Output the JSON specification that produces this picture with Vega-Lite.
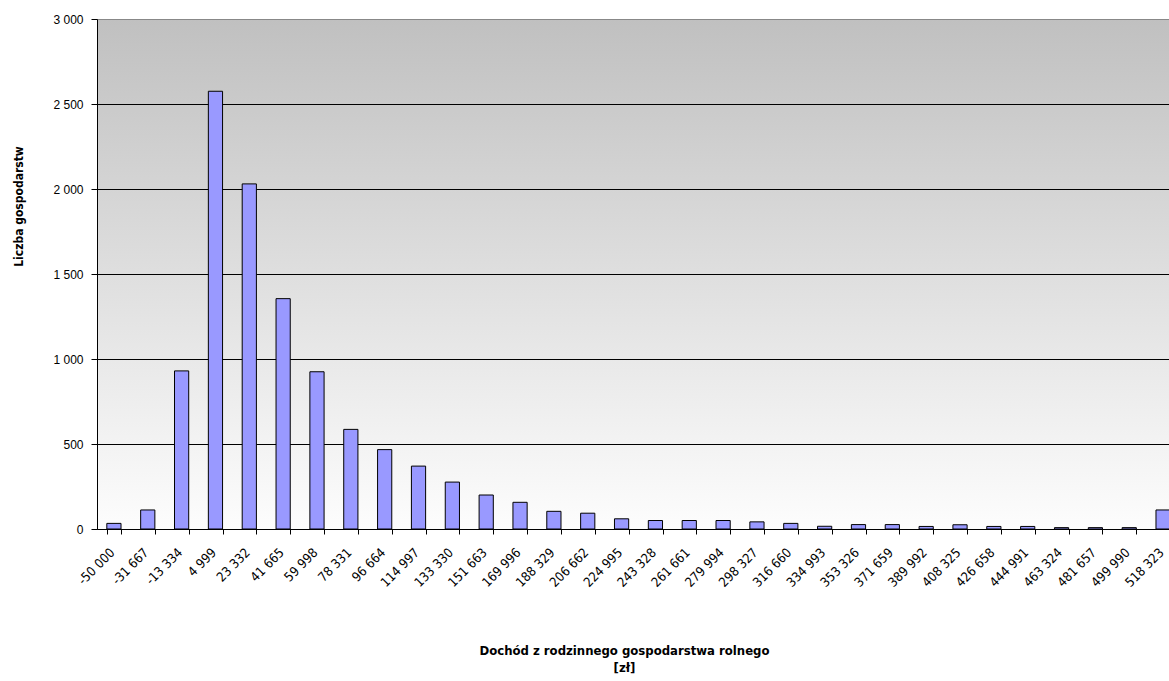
{
  "$schema": "https://vega.github.io/schema/vega-lite/v6.json",
  "width": 1072,
  "height": 510,
  "autosize": {"type": "none"},
  "padding": {"left": 97, "top": 19, "right": 0, "bottom": 152},
  "background": "white",
  "config": {
    "view": {
      "fill": {"gradient": "linear", "x1": 0, "y1": 0, "x2": 0, "y2": 1,
        "stops": [{"offset": 0, "color": "#c0c0c0"}, {"offset": 1, "color": "#fdfdfd"}]},
      "stroke": null
    },
    "font": "DejaVu Sans Condensed, sans-serif"
  },
  "data": {
    "values": [
      {"przedzial": "-50 000", "liczba": 33},
      {"przedzial": "-31 667", "liczba": 112},
      {"przedzial": "-13 334", "liczba": 930},
      {"przedzial": "4 999", "liczba": 2575},
      {"przedzial": "23 332", "liczba": 2030},
      {"przedzial": "41 665", "liczba": 1355},
      {"przedzial": "59 998", "liczba": 925},
      {"przedzial": "78 331", "liczba": 586},
      {"przedzial": "96 664", "liczba": 467},
      {"przedzial": "114 997", "liczba": 370},
      {"przedzial": "133 330", "liczba": 276},
      {"przedzial": "151 663", "liczba": 200},
      {"przedzial": "169 996", "liczba": 157},
      {"przedzial": "188 329", "liczba": 104},
      {"przedzial": "206 662", "liczba": 93},
      {"przedzial": "224 995", "liczba": 60},
      {"przedzial": "243 328", "liczba": 50},
      {"przedzial": "261 661", "liczba": 50},
      {"przedzial": "279 994", "liczba": 50},
      {"przedzial": "298 327", "liczba": 42},
      {"przedzial": "316 660", "liczba": 33},
      {"przedzial": "334 993", "liczba": 16},
      {"przedzial": "353 326", "liczba": 26},
      {"przedzial": "371 659", "liczba": 26},
      {"przedzial": "389 992", "liczba": 15},
      {"przedzial": "408 325", "liczba": 25},
      {"przedzial": "426 658", "liczba": 15},
      {"przedzial": "444 991", "liczba": 15},
      {"przedzial": "463 324", "liczba": 8},
      {"przedzial": "481 657", "liczba": 8},
      {"przedzial": "499 990", "liczba": 8},
      {"przedzial": "518 323", "liczba": 112}
    ]
  },
  "mark": {"type": "bar", "fill": "#9999ff", "stroke": "black", "strokeWidth": 1},
  "encoding": {
    "x": {
      "field": "przedzial",
      "type": "nominal",
      "sort": null,
      "scale": {"range": [0, 1083], "paddingInner": 0.58, "paddingOuter": 0.29},
      "axis": {
        "title": ["Dochód z rodzinnego gospodarstwa rolnego", "[zł]"],
        "labelAngle": -45,
        "labelAlign": "right",
        "labelBaseline": "top",
        "labelPadding": 12,
        "labelOffset": -6,
        "tickBand": "extent",
        "domainColor": "black",
        "tickColor": "black",
        "tickSize": 5,
        "labelFontSize": 13,
        "labelColor": "black",
        "titleFontSize": 13,
        "titleFontWeight": "bold",
        "titleColor": "black",
        "titleX": 527,
        "titleY": 115,
        "titleBaseline": "top",
        "titleLineHeight": 17,
        "grid": false
      }
    },
    "y": {
      "field": "liczba",
      "type": "quantitative",
      "scale": {"domain": [0, 3000], "nice": false},
      "axis": {
        "title": "Liczba gospodarstw",
        "values": [0, 500, 1000, 1500, 2000, 2500, 3000],
        "labelExpr": "replace(format(datum.value, ','), ',', ' ')",
        "grid": true,
        "gridColor": {"condition": {"test": "datum.value == 3000", "value": "#888888"}, "value": "black"},
        "gridOpacity": 1,
        "domainColor": "black",
        "tickColor": "black",
        "tickSize": 6,
        "labelPadding": 8,
        "labelFont": "Liberation Sans, Arial, sans-serif",
        "labelFontSize": 12,
        "labelColor": "black",
        "titleFontSize": 12,
        "titleFontWeight": "bold",
        "titleColor": "black",
        "titleX": -79,
        "titleY": 187,
        "titleAngle": -90,
        "titleAlign": "center",
        "titleBaseline": "middle"
      }
    }
  }
}
